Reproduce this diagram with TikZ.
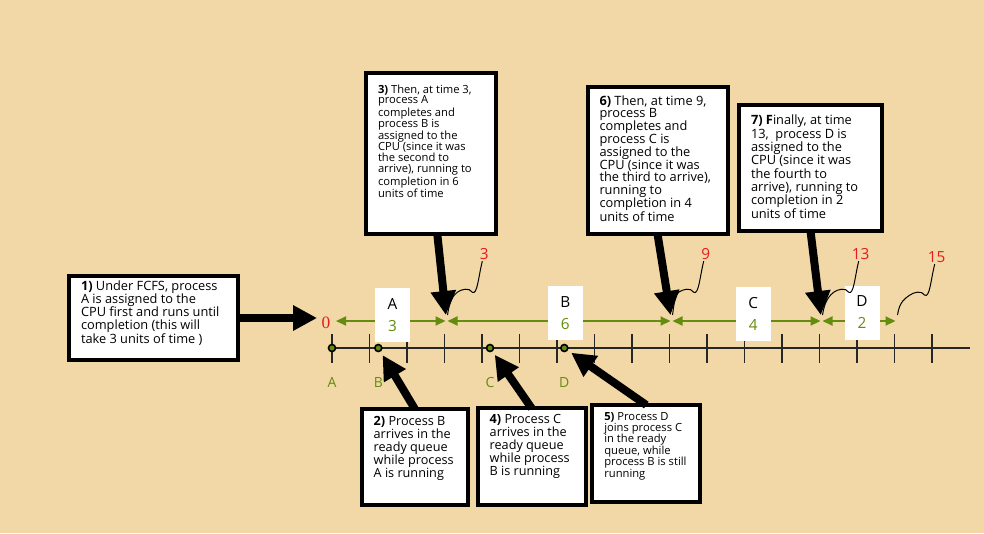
\documentclass[tikz,border=0pt]{standalone}
\usepackage{fontspec}
\setmainfont{Open Sans}
\newfontfamily\zerofont{Liberation Serif}
\usetikzlibrary{arrows.meta}
\definecolor{sand}{RGB}{242,216,166}
\definecolor{procgreen}{RGB}{100,140,15}
\definecolor{timered}{RGB}{228,28,28}
\newlength{\px}
\setlength{\px}{0.75pt}
\newcommand{\notebody}[4][0]{\parbox[c][\dimexpr#3\px-10\px][t]{\dimexpr#2\px-24\px}{\raggedright\vspace*{#1\px}#4}}

\begin{document}
\begin{tikzpicture}[x=0.75pt, y=-0.75pt] %FCFS
    \tikzstyle{note} = [draw, line width=4\px, fill=white, anchor=north west, inner xsep=12\px, inner ysep=5\px, outer sep=0pt]
    \tikzstyle{tag} = [fill=white, align=center, minimum width=35\px, minimum height=54\px, inner sep=0pt, font=\fontsize{11.5}{16.5}\selectfont]
    \tikzstyle{timenum} = [text=timered, inner sep=1pt, font=\fontsize{11.5}{12}\selectfont]
    \tikzstyle{proc} = [text=procgreen, inner sep=1pt, font=\fontsize{10.5}{12}\selectfont]
    \tikzstyle{dot} = [circle, draw=black, fill=procgreen, line width=1.6\px, minimum size=7\px, inner sep=0pt]
    \tikzstyle{axis} = [line width=1.6\px, black!85]
    \tikzstyle{span} = [procgreen, line width=2\px, shorten <=0.75pt, shorten >=0.75pt, {Triangle[length=7.5pt, width=6.75pt]}-{Triangle[length=7.5pt, width=6.75pt]}]
    \tikzstyle{leader} = [line width=1\px]
    \tikzstyle{bigarrow} = [line width=8\px, -{Triangle[length=18pt, width=18pt]}]

    \useasboundingbox (0,0) rectangle (984,533);
    \fill[sand] (0,0) rectangle (984,533);

    % time axis
    \draw[axis] (330,348) -- (970,348);
    \foreach \i in {0,...,16}
    {
        \draw[axis] (332+37.5*\i,334) -- (332+37.5*\i,363);
    }

    % arrivals
    \foreach \p/\x in {A/332,B/378.3,C/490,D/564.3}
    {
        \node[dot] (d\p) at (\x,348) {};
        \node[proc] (l\p) at (\x,382) {\p};
    }

    % bursts
    \coordinate (s0) at (332,321);
    \foreach \t in {3,9,13,15}
    {
        \coordinate (s\t) at (334+37.5*\t,321);
    }
    \draw[span, shorten <=3pt] (s0) -- (s3);
    \draw[span] (s3) -- (s9);
    \draw[span] (s9) -- (s13);
    \draw[span] (s13) -- (s15);

    \node[tag] (TA) at (392.5,315) {A\\\textcolor{procgreen}{3}};
    \node[tag] (TB) at (565.3,313) {B\\\textcolor{procgreen}{6}};
    \node[tag] (TC) at (753.3,313.5) {C\\\textcolor{procgreen}{4}};
    \node[tag] (TD) at (862,312.5) {D\\\textcolor{procgreen}{2}};

    \node[timenum, font=\zerofont\fontsize{13}{13}\selectfont] (n0) at (326,323) {0};
    \node[timenum] (n3) at (484.3,254) {3};
    \node[timenum] (n9) at (705.7,254) {9};
    \node[timenum] (n13) at (860.7,254) {13};
    \node[timenum] (n15) at (936.7,257) {15};
    \foreach \t in {3,9,13,15}
    {
        \draw[leader] ([xshift=-1.5pt]n\t.south) .. controls +(-4,16) and +(5,3) .. ++(-10,31)
            .. controls +(-3,-5) and +(4,-3) .. ++(-15,0)
            .. controls +(-4,3) and +(2,-14) .. ([shift={(1,-6)}]s\t);
    }

    % notes
    \node[note, font=\fontsize{9.6}{9.8}\selectfont] (N1) at (69,276) {\notebody{169}{84}{\textbf{1)} Under FCFS, process\\ A is assigned to the\\ CPU first and runs until\\ completion (this will\\ take 3 units of time )}};
    \node[note, font=\fontsize{9.5}{9.75}\selectfont] (N2) at (361.7,408.7) {\notebody[2.4]{106}{96}{\textbf{2)} Process B\\ arrives in the\\ ready queue\\ while process\\ A is running}};
    \node[note, font=\fontsize{8.4}{8.2}\selectfont] (N3) at (366,72.5) {\notebody[7]{129.5}{161.5}{\textbf{3)} Then, at time 3,\\ process A\\ completes and\\ process B is\\ assigned to the\\ CPU (since it was\\ the second to\\ arrive), running to\\ completion in 6\\ units of time}};
    \node[note, font=\fontsize{9.5}{9.75}\selectfont] (N4) at (477.7,408.3) {\notebody[1]{108}{96.5}{\textbf{4)} Process C\\ arrives in the\\ ready queue\\ while process\\ B is running}};
    \node[note, font=\fontsize{8.4}{8.6}\selectfont] (N5) at (592.3,405) {\notebody[2]{108}{97}{\textbf{5)} Process D\\ joins process C\\ in the ready\\ queue, while\\ process B is still\\ running}};
    \node[note, font=\fontsize{9.6}{9.6}\selectfont] (N6) at (587.5,87) {\notebody[3.4]{140}{147}{\textbf{6)} Then, at time 9,\\ process B\\ completes and\\ process C is\\ assigned to the\\ CPU (since it was\\ the third to arrive),\\ running to\\ completion in 4\\ units of time}};
    \node[note, font=\fontsize{9.6}{10}\selectfont] (N7) at (739,105) {\notebody[5]{143}{126}{\textbf{7) F}inally, at time\\ 13,~ process D is\\ assigned to the\\ CPU (since it was\\ the fourth to\\ arrive), running to\\ completion in 2\\ units of time}};

    % pointers
    \draw[bigarrow, shorten >=2.25pt] (N1.east) -- (N1.east -| n0.west);
    \draw[bigarrow, shorten >=4.5pt] ([xshift=4.9pt]N3.south) -- (s3);
    \draw[bigarrow, shorten >=4.5pt] (N6.south) -- (s9);
    \draw[bigarrow, shorten >=4.5pt] (N7.south) -- (s13);
    \draw[bigarrow, shorten >=3pt] (N2.north) -- (dB);
    \draw[bigarrow, shorten >=3pt] (N4.north) -- (dC);
    \draw[bigarrow, shorten >=3pt] (N5.north) -- (dD);
\end{tikzpicture}
\end{document}
